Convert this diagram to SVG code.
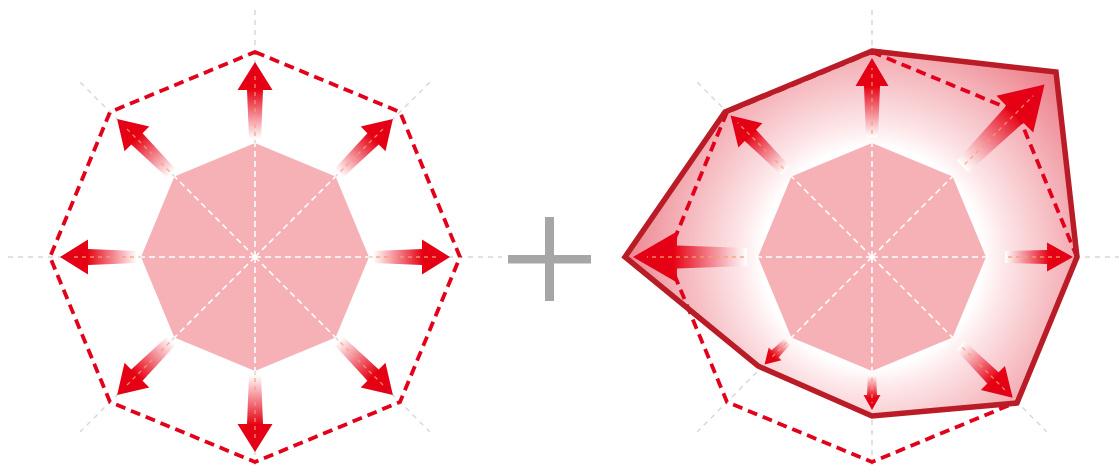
<svg xmlns="http://www.w3.org/2000/svg" xmlns:xlink="http://www.w3.org/1999/xlink" width="1119" height="467" viewBox="0 0 1119 467">
<style>
.guide{stroke:#d6d6d6;stroke-width:1.4;stroke-dasharray:5 5;fill:none}
.inner{fill:#f5b1b6}
.spoke{stroke:#ffffff;stroke-width:1.6;stroke-dasharray:6 4;fill:none}
.arrow{fill:url(#arrowGrad)}
.axis{stroke:#f5a06c;stroke-width:1.3;stroke-dasharray:4 4;fill:none;opacity:0.85}
.outer{fill:none;stroke:#e3001b;stroke-width:3.8;stroke-dasharray:10 6;stroke-linejoin:round}
.hull{fill:none;stroke:#b91c26;stroke-width:5.5;stroke-linejoin:miter}
.plus{fill:#a6a6a6}
</style>
<defs>
<linearGradient id="arrowGrad" x1="0" y1="0" x2="1" y2="0">
<stop offset="0" stop-color="#ffffff"/>
<stop offset="0.35" stop-color="#f17682"/>
<stop offset="0.65" stop-color="#e60012"/>
<stop offset="1" stop-color="#e2001a"/>
</linearGradient>
<radialGradient id="glow" gradientUnits="userSpaceOnUse" cx="872" cy="257" r="262">
<stop offset="0" stop-color="#ffffff"/>
<stop offset="0.42" stop-color="#ffffff"/>
<stop offset="0.5" stop-color="#fde8ea"/>
<stop offset="0.62" stop-color="#f8cdd1"/>
<stop offset="0.78" stop-color="#f3aab1"/>
<stop offset="1" stop-color="#ec7783"/>
</radialGradient>
<g id="stdArrow">
<path class="arrow" d="M118,-6 L167,-8 L167,-17.5 L195,0 L167,17.5 L167,8 L118,6 Z"/>
<line class="axis" x1="121" y1="0" x2="185" y2="0"/>
</g>
</defs>

<g id="left-diagram">
<g id="left-guides">
<line class="guide" x1="8" y1="257" x2="502" y2="257"/>
<line class="guide" x1="255" y1="10" x2="255" y2="467"/>
<line class="guide" x1="80.3" y1="82.3" x2="429.7" y2="431.7"/>
<line class="guide" x1="429.7" y1="82.3" x2="80.3" y2="431.7"/>
</g>
<g id="left-inner">
<polygon class="inner" points="255,143 335.6,176.4 369,257 335.6,337.6 255,371 174.4,337.6 141,257 174.4,176.4"/>
<line class="spoke" x1="255" y1="257" x2="255" y2="143"/>
<line class="spoke" x1="255" y1="257" x2="335.6" y2="176.4"/>
<line class="spoke" x1="255" y1="257" x2="369" y2="257"/>
<line class="spoke" x1="255" y1="257" x2="335.6" y2="337.6"/>
<line class="spoke" x1="255" y1="257" x2="255" y2="371"/>
<line class="spoke" x1="255" y1="257" x2="174.4" y2="337.6"/>
<line class="spoke" x1="255" y1="257" x2="141" y2="257"/>
<line class="spoke" x1="255" y1="257" x2="174.4" y2="176.4"/>
<circle cx="255" cy="257" r="2.5" fill="#ffffff"/>
</g>
<g id="left-arrows">
<use xlink:href="#stdArrow" transform="translate(255 257) rotate(-90)"/>
<use xlink:href="#stdArrow" transform="translate(255 257) rotate(-45)"/>
<use xlink:href="#stdArrow" transform="translate(255 257) rotate(0)"/>
<use xlink:href="#stdArrow" transform="translate(255 257) rotate(45)"/>
<use xlink:href="#stdArrow" transform="translate(255 257) rotate(90)"/>
<use xlink:href="#stdArrow" transform="translate(255 257) rotate(135)"/>
<use xlink:href="#stdArrow" transform="translate(255 257) rotate(180)"/>
<use xlink:href="#stdArrow" transform="translate(255 257) rotate(-135)"/>
</g>
<polygon id="left-outer" class="outer" points="255,52 400,112 460,257 400,402 255,462 110,402 50,257 110,112"/>
</g>

<g id="plus-sign">
<rect class="plus" x="545" y="217" width="9" height="84"/>
<rect class="plus" x="508" y="255" width="83" height="8.5"/>
</g>

<g id="right-diagram">
<g id="right-guides">
<line class="guide" x1="625" y1="257" x2="1119" y2="257"/>
<line class="guide" x1="872" y1="10" x2="872" y2="467"/>
<line class="guide" x1="697.3" y1="82.3" x2="1046.7" y2="431.7"/>
<line class="guide" x1="1046.7" y1="82.3" x2="697.3" y2="431.7"/>
</g>
<polygon id="right-hull-fill" fill="url(#glow)" points="872,51 1056,72 1077,257 1017,403 872,416 758,366 625,257 725,112"/>
<g id="right-inner">
<polygon class="inner" points="872,143 952.6,176.4 986,257 952.6,337.6 872,371 791.4,337.6 758,257 791.4,176.4"/>
<line class="spoke" x1="872" y1="257" x2="872" y2="143"/>
<line class="spoke" x1="872" y1="257" x2="952.6" y2="176.4"/>
<line class="spoke" x1="872" y1="257" x2="986" y2="257"/>
<line class="spoke" x1="872" y1="257" x2="952.6" y2="337.6"/>
<line class="spoke" x1="872" y1="257" x2="872" y2="371"/>
<line class="spoke" x1="872" y1="257" x2="791.4" y2="337.6"/>
<line class="spoke" x1="872" y1="257" x2="758" y2="257"/>
<line class="spoke" x1="872" y1="257" x2="791.4" y2="176.4"/>
<circle cx="872" cy="257" r="2.5" fill="#ffffff"/>
</g>
<g id="right-arrows">
<g transform="translate(872 257) rotate(-90)">
<path class="arrow" d="M120,-6 L171,-8 L171,-16.5 L199,0 L171,16.5 L171,8 L120,6 Z"/>
<line class="axis" x1="123" y1="0" x2="189" y2="0"/>
</g>
<g transform="translate(872 257) rotate(-45)">
<path class="arrow" d="M128,-8 L202,-12 L202,-26 L244,0 L202,26 L202,12 L128,8 Z"/>
<line class="axis" x1="131" y1="0" x2="228" y2="0"/>
</g>
<g transform="translate(872 257) rotate(0)">
<path class="arrow" d="M133,-6 L175,-7 L175,-14.5 L201,0 L175,14.5 L175,7 L133,6 Z"/>
<line class="axis" x1="136" y1="0" x2="191" y2="0"/>
</g>
<g transform="translate(872 257) rotate(45)">
<path class="arrow" d="M125,-6 L171,-8 L171,-17 L199,0 L171,17 L171,8 L125,6 Z"/>
<line class="axis" x1="128" y1="0" x2="189" y2="0"/>
</g>
<g transform="translate(872 257) rotate(90)">
<path class="arrow" d="M118,-4 L138,-5 L138,-8.5 L153,0 L138,8.5 L138,5 L118,4 Z"/>
<line class="axis" x1="121" y1="0" x2="146" y2="0"/>
</g>
<g transform="translate(872 257) rotate(135)">
<path class="arrow" d="M118,-4 L137,-5 L137,-9 L152,0 L137,9 L137,5 L118,4 Z"/>
<line class="axis" x1="121" y1="0" x2="145" y2="0"/>
</g>
<g transform="translate(872 257) rotate(180)">
<path class="arrow" d="M125,-9 L195,-11.5 L195,-25.5 L239,0 L195,25.5 L195,11.5 L125,9 Z"/>
<line class="axis" x1="128" y1="0" x2="225" y2="0"/>
</g>
<g transform="translate(872 257) rotate(-135)">
<path class="arrow" d="M122,-6 L172,-8 L172,-17 L200,0 L172,17 L172,8 L122,6 Z"/>
<line class="axis" x1="125" y1="0" x2="190" y2="0"/>
</g>
</g>
<polygon id="right-outer" class="outer" points="872,52 1017,112 1077,257 1017,402 872,462 727,402 667,257 727,112"/>
<polygon id="right-hull" class="hull" points="872,51 1056,72 1077,257 1017,403 872,416 758,366 625,257 725,112"/>
</g>
</svg>
